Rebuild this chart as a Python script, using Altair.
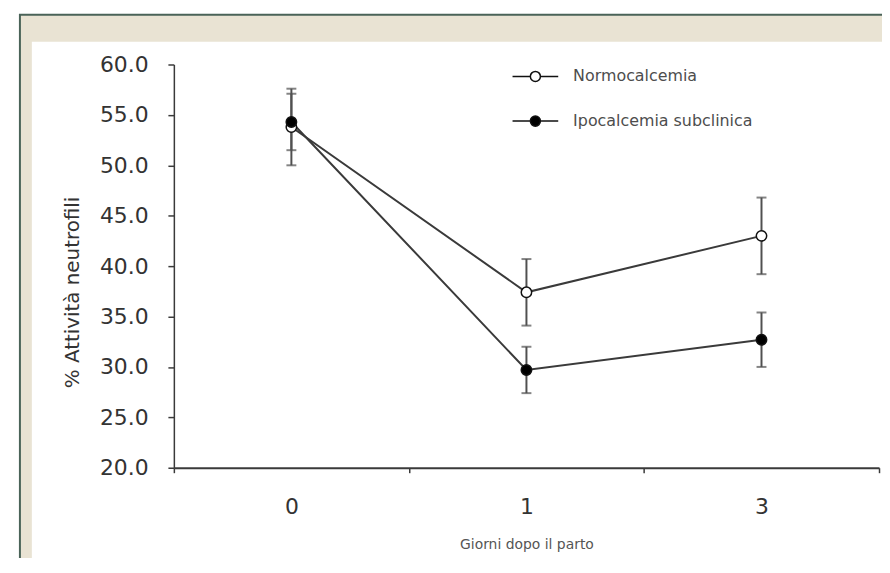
import altair as alt
import pandas as pd

# ---- data ----
days = ["0", "1", "3"]
groups = ["Normocalcemia", "Ipocalcemia subclinica"]
normo_mean = [53.8, 37.4, 43.0]
normo_err = [3.8, 3.3, 3.8]
ipo_mean = [54.3, 29.7, 32.7]
ipo_err = [2.8, 2.3, 2.7]
y_ticks = [20, 25, 30, 35, 40, 45, 50, 55, 60]

rows = []
for g, means, errs in [(groups[0], normo_mean, normo_err), (groups[1], ipo_mean, ipo_err)]:
    for d, m, e in zip(days, means, errs):
        rows.append({"group": g, "day": d, "mean": m, "err": e})
df = pd.DataFrame(rows)

W, H = 710, 406
FONT = "DejaVu Sans"

x_enc = alt.X(
    "day:N",
    sort=days,
    scale=alt.Scale(type="band", paddingInner=0, paddingOuter=0),
    axis=alt.Axis(
        title="Giorni dopo il parto",
        zindex=1,
        labelAngle=0,
        tickBand="extent",
        domainColor="#3a3a3a",
        domainWidth=2,
        tickColor="#3a3a3a",
        tickWidth=1.5,
        tickSize=5,
        labelFont=FONT,
        labelFontSize=22,
        labelColor="#333333",
        labelPadding=24,
        titleFont=FONT,
        titleFontSize=14,
        titleFontWeight="normal",
        titleColor="#555555",
        titleY=77,
        titleBaseline="middle",
    ),
)
y_enc = alt.Y(
    "mean:Q",
    scale=alt.Scale(domain=[20, 60], nice=False, zero=False),
    axis=alt.Axis(
        title="% Attività neutrofili",
        zindex=1,
        values=y_ticks,
        format=".1f",
        grid=False,
        domainColor="#3a3a3a",
        domainWidth=1.5,
        tickColor="#3a3a3a",
        tickWidth=1.5,
        tickSize=6,
        labelFont=FONT,
        labelFontSize=22,
        labelColor="#333333",
        labelPadding=20,
        titleFont=FONT,
        titleFontSize=20,
        titleFontWeight="normal",
        titleColor="#333333",
        titleX=-102,
        titleY=229,
        titleBaseline="middle",
    ),
)

panel = alt.Data(values=[{"p": 1}])
outer = alt.Chart(panel).mark_rect(
    fill="#e9e3d3", stroke="#4a6358", strokeWidth=2
).encode(
    x=alt.value(-155), x2=alt.value(730), y=alt.value(-50), y2=alt.value(530)
)
inner = alt.Chart(panel).mark_rect(fill="#ffffff").encode(
    x=alt.value(-143), x2=alt.value(730), y=alt.value(-23), y2=alt.value(499)
)

base = alt.Chart(df)

errbars = base.mark_errorbar(
    ticks={"size": 10}, thickness=2, color="#505050"
).encode(x=x_enc, y=y_enc, yError="err:Q")

lines = base.mark_line(color="#3a3a3a", strokeWidth=2).encode(
    x=x_enc, y=y_enc, detail="group:N"
)

legend_path = (
    "M-1,0H-0.22M0.22,0H1"
    "M0.22,0A0.22,0.22,0,1,1,-0.22,0A0.22,0.22,0,1,1,0.22,0Z"
)

points = base.mark_point(
    shape="circle", filled=True, stroke="#111111", strokeWidth=1.5, size=110, opacity=1
).encode(
    x=x_enc,
    y=y_enc,
    fill=alt.Fill(
        "group:N",
        scale=alt.Scale(domain=groups, range=["#ffffff", "#000000"]),
        legend=alt.Legend(
            title=None,
            orient="none",
            legendX=340,
            legendY=-12,
            padding=0,
            rowPadding=12,
            symbolType=legend_path,
            symbolSize=2116,
            symbolStrokeColor="#111111",
            symbolStrokeWidth=1.5,
            symbolOpacity=1,
            labelFont=FONT,
            labelFontSize=16,
            labelColor="#4d4d4d",
            labelOffset=14,
            labelLimit=400,
        ),
    ),
)

chart = (
    alt.layer(outer, inner, errbars, lines, points)
    .properties(
        width=W,
        height=H,
        autosize=alt.AutoSizeParams(type="none"),
        padding={"left": 167, "top": 55, "right": 3, "bottom": 89},
        background="#ffffff",
    )
    .configure_view(stroke=None)
)

chart.save("out.html", embed_options={"renderer": "svg", "actions": False})
